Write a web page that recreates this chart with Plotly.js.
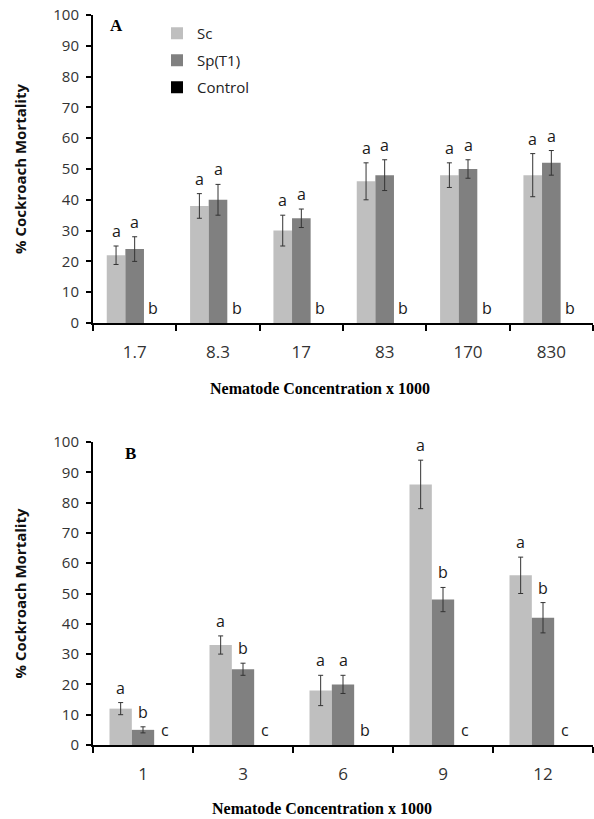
<!DOCTYPE html>
<html>
<head>
<meta charset="utf-8">
<script src="https://cdn.plot.ly/plotly-3.0.1.min.js"></script>
<style>html,body{margin:0;padding:0;background:#fff;}#chart{width:594px;height:819px;}</style>
</head>
<body>
<div id="chart"></div>
<script>
// ---- Panel A data ----
var catsA = ["1.7", "8.3", "17", "83", "170", "830"];
var scA = [22, 38, 30, 46, 48, 48];
var scAErr = [3, 4, 5, 6, 4, 7];
var spA = [24, 40, 34, 48, 50, 52];
var spAErr = [4, 5, 3, 5, 3, 4];
var ctlA = [0, 0, 0, 0, 0, 0];
var scALetters = ["a", "a", "a", "a", "a", "a"];
var spALetters = ["a", "a", "a", "a", "a", "a"];
var ctlALetters = ["b", "b", "b", "b", "b", "b"];

// ---- Panel B data ----
var catsB = ["1", "3", "6", "9", "12"];
var scB = [12, 33, 18, 86, 56];
var scBErr = [2, 3, 5, 8, 6];
var spB = [5, 25, 20, 48, 42];
var spBErr = [1, 2, 3, 4, 5];
var ctlB = [0, 0, 0, 0, 0];
var scBLetters = ["a", "a", "a", "a", "a"];
var spBLetters = ["b", "b", "a", "b", "b"];
var ctlBLetters = ["c", "c", "b", "c", "c"];

var seriesNames = ["Sc", "Sp(T1)", "Control"];
var seriesColors = ["#bfbfbf", "#808080", "#000000"];

var W = 594, H = 819;
var M = {l: 93, r: 1, t: 15, b: 74};
var plotW = W - M.l - M.r, plotH = H - M.t - M.b;
var bargap = 0.33;
var domA = [(745 - 323) / plotH, 1];
var domB = [0, (745 - 442) / plotH];

var sansFont = "Open Sans, Noto Sans, sans-serif";
var serifFont = "Liberation Serif, Times New Roman, serif";
var errStyle = {type: "data", visible: true, color: "#333333", thickness: 1, width: 2.5};

function idx(cats) { return cats.map(function (_, i) { return i; }); }

function barTrace(cats, vals, errs, k, xa, ya, showLeg) {
  var t = {
    type: "bar", x: idx(cats), y: vals, name: seriesNames[k],
    marker: {color: seriesColors[k], line: {width: 0}},
    xaxis: xa, yaxis: ya, showlegend: showLeg,
    legendgroup: "g" + k
  };
  if (errs) { t.error_y = Object.assign({array: errs}, errStyle); }
  return t;
}

var data = [
  barTrace(catsA, scA, scAErr, 0, "x", "y", true),
  barTrace(catsA, spA, spAErr, 1, "x", "y", true),
  barTrace(catsA, ctlA, null, 2, "x", "y", true),
  barTrace(catsB, scB, scBErr, 0, "x2", "y2", false),
  barTrace(catsB, spB, spBErr, 1, "x2", "y2", false),
  barTrace(catsB, ctlB, null, 2, "x2", "y2", false)
];

var annotations = [];
function addLetters(cats, vals, errs, letters, k, xref, yref) {
  var off = (k - 1) * (1 - bargap) / 3;
  for (var i = 0; i < cats.length; i++) {
    annotations.push({
      x: i + off, y: vals[i] + (errs ? errs[i] : 0), xref: xref, yref: yref,
      text: letters[i], showarrow: false, yshift: 2,
      yanchor: "bottom", xanchor: "center",
      font: {family: sansFont, size: 16, color: "#1a1a1a"}
    });
  }
}
addLetters(catsA, scA, scAErr, scALetters, 0, "x", "y");
addLetters(catsA, spA, spAErr, spALetters, 1, "x", "y");
addLetters(catsA, ctlA, null, ctlALetters, 2, "x", "y");
addLetters(catsB, scB, scBErr, scBLetters, 0, "x2", "y2");
addLetters(catsB, spB, spBErr, spBLetters, 1, "x2", "y2");
addLetters(catsB, ctlB, null, ctlBLetters, 2, "x2", "y2");

// panel letters
annotations.push({text: "<b>A</b>", xref: "paper", yref: "y domain", x: (116 - M.l) / plotW, y: 1, yshift: -10,
  showarrow: false, xanchor: "center", yanchor: "middle", font: {family: serifFont, size: 17, color: "#000"}});
annotations.push({text: "<b>B</b>", xref: "paper", yref: "y2 domain", x: (130 - M.l) / plotW, y: 1, yshift: -11,
  showarrow: false, xanchor: "center", yanchor: "middle", font: {family: serifFont, size: 17, color: "#000"}});

// x axis titles
var xTitle = "<b>Nematode Concentration x 1000</b>";
annotations.push({text: xTitle, xref: "paper", yref: "y domain", x: (320 - M.l) / plotW, y: 0, yshift: -65,
  showarrow: false, xanchor: "center", yanchor: "middle", font: {family: serifFont, size: 16, color: "#000"}});
annotations.push({text: xTitle, xref: "paper", yref: "y2 domain", x: (322 - M.l) / plotW, y: 0, yshift: -63,
  showarrow: false, xanchor: "center", yanchor: "middle", font: {family: serifFont, size: 16, color: "#000"}});

function xAxis(anchor, cats) {
  var n = cats.length;
  return {
    type: "linear", anchor: anchor, domain: [0, 1], range: [-0.5, n - 0.5],
    showline: true, linecolor: "#000", linewidth: 2,
    tickmode: "array", tickvals: idx(cats), ticktext: cats,
    ticks: "", showgrid: false, zeroline: false, ticklabelstandoff: 13,
    minor: {tick0: -0.5, dtick: 1, ticks: "outside", ticklen: 6, tickwidth: 2, tickcolor: "#000", showgrid: false},
    tickfont: {family: sansFont, size: 17, color: "#333333"}
  };
}
function yAxis(anchor, dom) {
  return {
    anchor: anchor, domain: dom, range: [0, 100], dtick: 10, tick0: 0,
    showline: true, linecolor: "#000", linewidth: 2,
    ticks: "outside", ticklen: 5, tickwidth: 2, tickcolor: "#000",
    showgrid: false, zeroline: false, ticklabelstandoff: 4,
    tickfont: {family: sansFont, size: 15, color: "#333333"},
    title: {text: "<b>% Cockroach Mortality</b>", standoff: 23,
      font: {family: sansFont, size: 15, color: "#111111"}}
  };
}

var layout = {
  width: W, height: H, margin: M,
  paper_bgcolor: "#fff", plot_bgcolor: "#fff",
  barmode: "group", bargap: bargap, bargroupgap: 0,
  showlegend: true,
  legend: {x: (157 - M.l) / plotW, y: 1 - (17 - M.t) / plotH, xanchor: "left", yanchor: "top",
    traceorder: "grouped", tracegroupgap: 4.5, bgcolor: "rgba(0,0,0,0)",
    font: {family: sansFont, size: 15, color: "#222"}},
  xaxis: xAxis("y", catsA), yaxis: yAxis("x", domA),
  xaxis2: xAxis("y2", catsB), yaxis2: yAxis("x2", domB),
  annotations: annotations
};

Plotly.newPlot("chart", data, layout, {displayModeBar: false, staticPlot: true});
</script>
</body>
</html>
